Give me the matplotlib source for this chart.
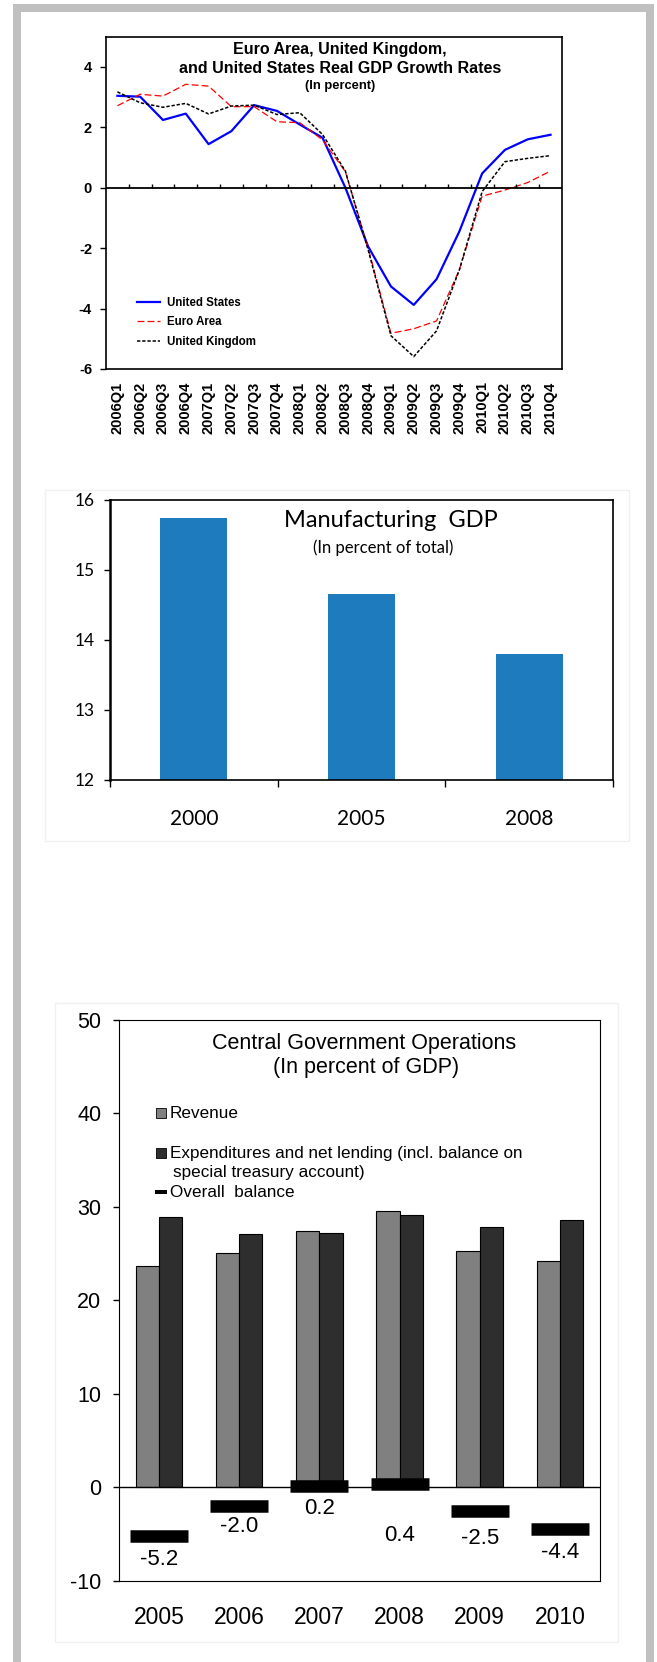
import numpy as np
import matplotlib.pyplot as plt
from matplotlib.patches import Rectangle

plt.rcParams['font.family'] = ['Liberation Sans', 'DejaVu Sans']
plt.rcParams['axes.unicode_minus'] = False

# Real GDP growth rates (percent)
quarters = ['2006Q1', '2006Q2', '2006Q3', '2006Q4', '2007Q1', '2007Q2', '2007Q3', '2007Q4',
            '2008Q1', '2008Q2', '2008Q3', '2008Q4', '2009Q1', '2009Q2', '2009Q3', '2009Q4',
            '2010Q1', '2010Q2', '2010Q3', '2010Q4']
us_growth = [3.04, 3.01, 2.24, 2.45, 1.44, 1.87, 2.73, 2.54, 2.09, 1.65,
             0.0, -1.95, -3.27, -3.88, -3.03, -1.45, 0.47, 1.25, 1.6, 1.75]
euro_growth = [2.71, 3.09, 3.03, 3.42, 3.36, 2.68, 2.68, 2.18, 2.15, 1.58,
               0.53, -2.0, -4.82, -4.67, -4.41, -2.72, -0.28, -0.08, 0.17, 0.55]
uk_growth = [3.17, 2.81, 2.66, 2.79, 2.44, 2.7, 2.73, 2.42, 2.48, 1.76,
             0.55, -2.06, -4.9, -5.59, -4.74, -2.72, -0.13, 0.86, 0.97, 1.06]

# Manufacturing share of GDP
mfg_years = ['2000', '2005', '2008']
mfg_share = [15.74, 14.65, 13.8]

# Central government operations (percent of GDP)
gov_years = ['2005', '2006', '2007', '2008', '2009', '2010']
revenue = [23.7, 25.1, 27.4, 29.5, 25.3, 24.2]
expenditure = [28.9, 27.1, 27.2, 29.1, 27.8, 28.6]
overall_balance = [-5.2, -2.0, 0.2, 0.4, -2.5, -4.4]
balance_label_drop = [17, 15, 16.5, 37, 20, 17]  # points below each marker

W, H = 657, 1662


def px_rect(left, top, right, bottom):
    return (left / W, 1 - bottom / H), (right - left) / W, (bottom - top) / H


fig = plt.figure(figsize=(W / 100, H / 100), dpi=100)

# page frame and panel boxes
for box in [(13, 4, 21, H), (646, 4, 654, H), (13, 4, 654, 12)]:
    xy, w, h = px_rect(*box)
    fig.add_artist(Rectangle(xy, w, h, transform=fig.transFigure, color='#c0c0c0', lw=0))
for box in [(45, 490, 629, 841), (55, 1003, 618, 1642)]:
    xy, w, h = px_rect(*box)
    fig.add_artist(Rectangle(xy, w, h, transform=fig.transFigure, fill=False,
                             edgecolor='#f0f0f0', lw=1))

# ---- growth rates ----
ax1 = fig.add_axes([0.1613, 0.778, 0.694, 0.2])
xq = np.arange(len(quarters))
ax1.plot(xq, us_growth, color='#0000ff', lw=1.6, label='United States')
ax1.plot(xq, euro_growth, color='#ff0000', lw=0.9, ls=(0, (5.5, 2.5)), label='Euro Area')
ax1.plot(xq, uk_growth, color='black', lw=1.1, ls=(0, (2.2, 1.2)), label='United Kingdom')
ax1.axhline(0, color='black', lw=1.3)
ax1.vlines(xq[:-1] + 0.5, 0, 0.13, color='black', lw=1)
ax1.set_xlim(-0.5, len(quarters) - 0.5)
ax1.set_ylim(-6, 5)
ax1.set_yticks(range(-6, 5, 2))
ax1.set_xticks(xq, quarters, rotation=90)
ax1.tick_params(axis='x', length=0, pad=9, labelsize=10.5)
ax1.tick_params(axis='y', direction='out', length=4, width=1, pad=6, labelsize=10.5)
for lbl in ax1.get_xticklabels() + ax1.get_yticklabels():
    lbl.set_fontweight('bold')
for sp in ax1.spines.values():
    sp.set_linewidth(1.2)
ax1.text(0.513, 0.962, 'Euro Area, United Kingdom,', transform=ax1.transAxes,
         ha='center', va='center', fontsize=11.5, fontweight='bold')
ax1.text(0.513, 0.903, 'and United States Real GDP Growth Rates', transform=ax1.transAxes,
         ha='center', va='center', fontsize=11.5, fontweight='bold')
ax1.text(0.513, 0.850, '(In percent)', transform=ax1.transAxes,
         ha='center', va='center', fontsize=9.3, fontweight='bold')
ax1.legend(loc='center left', bbox_to_anchor=(0.067, 0.14), frameon=False,
           prop=dict(weight='bold', size=8.3), handlelength=2.0, handletextpad=0.65,
           labelspacing=0.68, borderpad=0, borderaxespad=0)

# ---- manufacturing GDP ----
ax2 = fig.add_axes([0.1674, 0.5307, 0.7656, 0.1685])
xm = np.arange(len(mfg_years))
ax2.bar(xm, mfg_share, width=0.4, color='#1e7bbd')
ax2.set_xlim(-0.5, len(mfg_years) - 0.5)
ax2.set_ylim(12, 16)
ax2.set_yticks(range(12, 17))
ax2.set_xticks(xm, mfg_years)
ax2.set_xticks(np.arange(len(mfg_years) + 1) - 0.5, minor=True)
ax2.tick_params(axis='x', which='major', length=0, pad=21, labelsize=15)
ax2.tick_params(axis='x', which='minor', length=5, width=1, direction='out')
ax2.tick_params(axis='y', length=4.3, width=1, pad=7, labelsize=12.5)
for lbl in ax2.get_xticklabels() + ax2.get_yticklabels():
    lbl.set_fontfamily('Lato')
for sp in ax2.spines.values():
    sp.set_linewidth(1.2)
ax2.spines['left'].set_linewidth(1.8)
ax2.text(0.559, 0.925, 'Manufacturing  GDP', transform=ax2.transAxes,
         ha='center', va='center', fontsize=17, family='Lato')
ax2.text(0.543, 0.829, '(In percent of total)', transform=ax2.transAxes,
         ha='center', va='center', fontsize=12, family='Lato')

# ---- central government operations ----
ax3 = fig.add_axes([0.1811, 0.04874, 0.7321, 0.3377])
xg = np.arange(len(gov_years))
bw = 0.29
ax3.bar(xg - bw / 2, revenue, bw, color='#808080', edgecolor='black', lw=0.8)
ax3.bar(xg + bw / 2, expenditure, bw, color='#2e2e2e', edgecolor='black', lw=0.8)
ax3.axhline(0, color='black', lw=1)
ax3.plot(xg, overall_balance, ls='none', marker='_', ms=42, mew=9, color='black')
for xi, v, dy in zip(xg, overall_balance, balance_label_drop):
    ax3.annotate(f'{v:.1f}', (xi, v), xytext=(0, -dy), textcoords='offset points',
                 ha='center', va='center', fontsize=16)
ax3.set_xlim(-0.5, len(gov_years) - 0.5)
ax3.set_ylim(-10, 50)
ax3.set_yticks(range(-10, 51, 10))
ax3.set_xticks(xg, gov_years)
ax3.tick_params(axis='x', length=0, pad=18, labelsize=16.5)
ax3.tick_params(axis='y', length=4.3, width=1, pad=8.5, labelsize=15.5)
ax3.text(0.509, 0.9585, 'Central Government Operations', transform=ax3.transAxes,
         ha='center', va='center', fontsize=15.5)
ax3.text(0.513, 0.9157, '(In percent of GDP)', transform=ax3.transAxes,
         ha='center', va='center', fontsize=15.5)

# legend key
key_x, txt_x = 0.0873, 0.106
ax3.plot([key_x], [0.8338], marker='s', ms=7.2, color='#808080', mec='black', mew=0.6,
         transform=ax3.transAxes, clip_on=False)
ax3.plot([key_x], [0.7625], marker='s', ms=7.2, color='#2e2e2e', mec='black', mew=0.6,
         transform=ax3.transAxes, clip_on=False)
ax3.plot([key_x], [0.693], marker='_', ms=8.6, mew=2.9, color='black',
         transform=ax3.transAxes, clip_on=False)
ax3.text(txt_x, 0.8338, 'Revenue', transform=ax3.transAxes, va='center', fontsize=12.3)
ax3.text(txt_x, 0.7625, 'Expenditures and net lending (incl. balance on',
         transform=ax3.transAxes, va='center', fontsize=12.3)
ax3.text(txt_x + 0.006, 0.7287, 'special treasury account)',
         transform=ax3.transAxes, va='center', fontsize=12.3)
ax3.text(txt_x, 0.693, 'Overall  balance', transform=ax3.transAxes, va='center', fontsize=12.3)

fig.savefig('out.png', dpi=100)
